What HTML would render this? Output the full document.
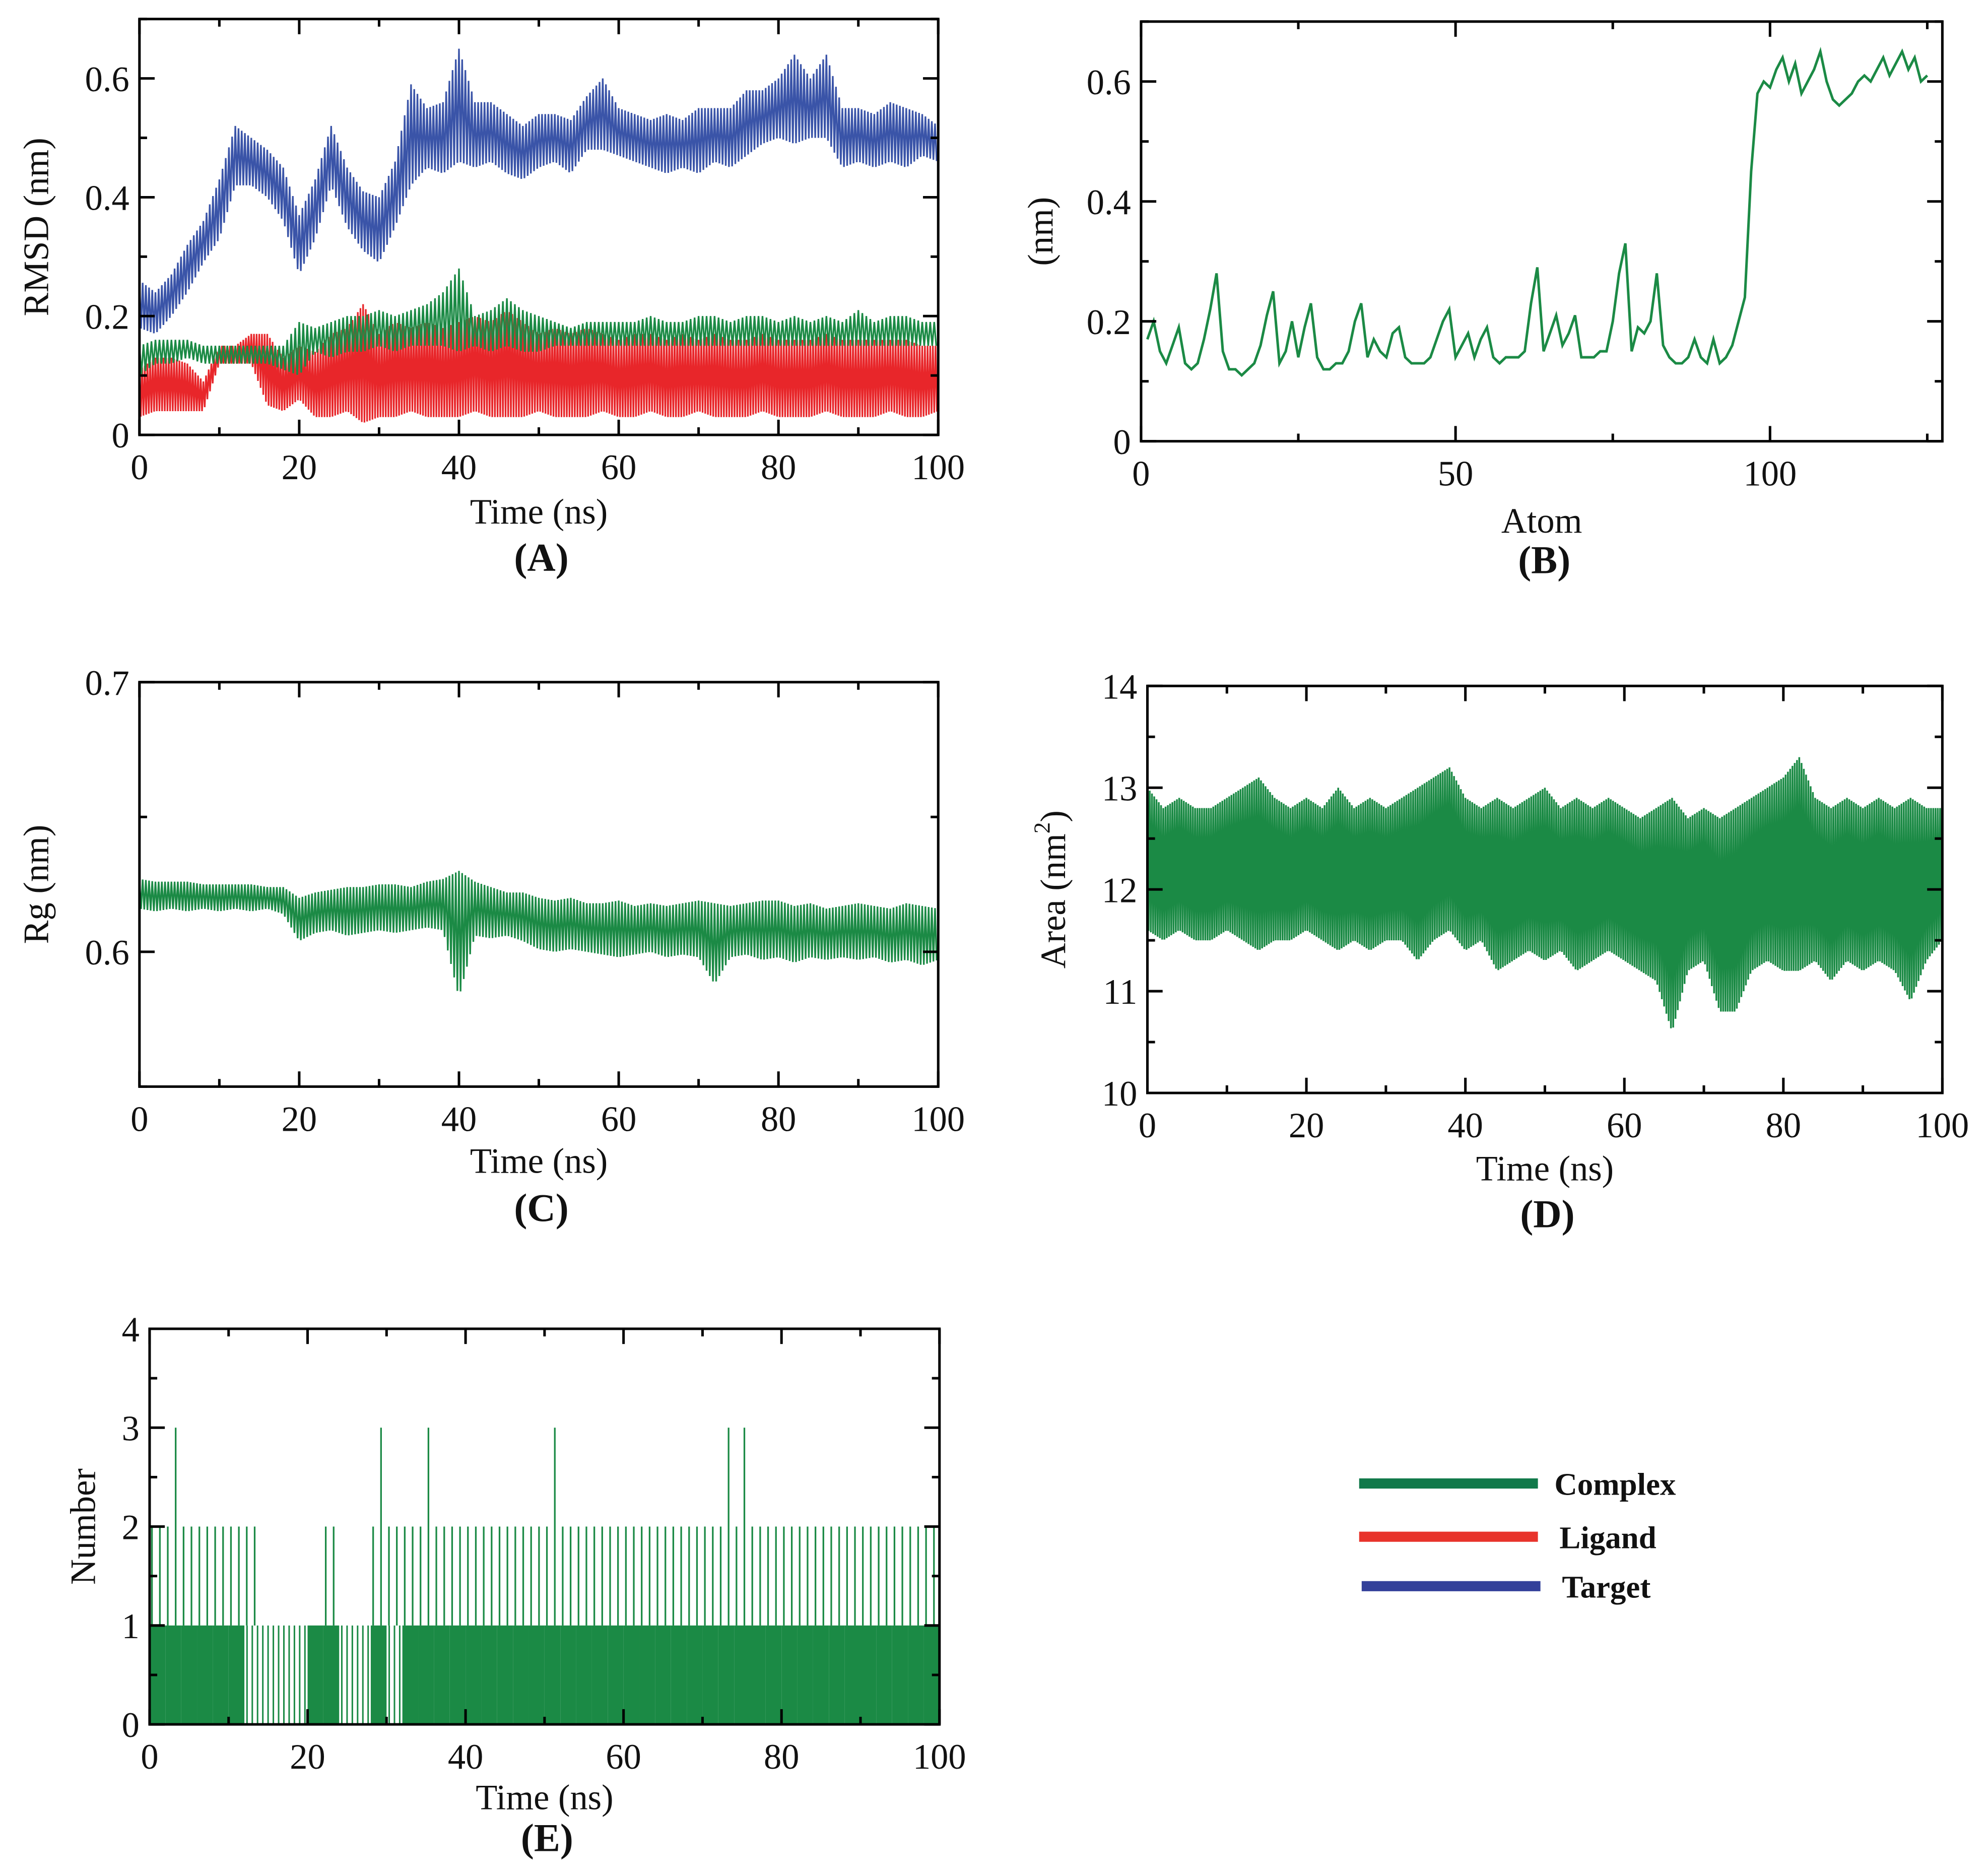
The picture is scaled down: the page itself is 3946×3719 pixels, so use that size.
<!DOCTYPE html>
<html><head><meta charset="utf-8"><style>
html,body{margin:0;padding:0;background:#fff}
svg{display:block}
text{font-family:"Liberation Serif",serif;fill:#111}
</style></head><body>
<svg id="fig" xmlns="http://www.w3.org/2000/svg" width="3946" height="3719" viewBox="0 0 1568 1478" preserveAspectRatio="none">
<g id="legend">
 <g><line x1="1072" y1="1170" x2="1213" y2="1170" stroke="#11794a" stroke-width="8"/><text x="1226" y="1179" font-size="25" font-weight="bold">Complex</text></g>
 <g><line x1="1072" y1="1212" x2="1213" y2="1212" stroke="#e8332b" stroke-width="8"/><text x="1230" y="1221" font-size="25" font-weight="bold">Ligand</text></g>
 <g><line x1="1074" y1="1251" x2="1215" y2="1251" stroke="#33409a" stroke-width="8"/><text x="1232" y="1260" font-size="25" font-weight="bold">Target</text></g>
</g>
</svg>
<script>
// ---------- data (2 ns bins, t = 0..100) ----------
const timeBins = [0,2,4,6,8,10,12,14,16,18,20,22,24,26,28,30,32,34,36,38,40,42,44,46,48,50,52,54,56,58,60,62,64,66,68,70,72,74,76,78,80,82,84,86,88,90,92,94,96,98,100];
const targetLo = [0.18,0.17,0.2,0.24,0.29,0.33,0.42,0.42,0.4,0.36,0.27,0.33,0.42,0.35,0.31,0.29,0.35,0.42,0.45,0.44,0.46,0.45,0.46,0.44,0.43,0.45,0.46,0.44,0.48,0.48,0.47,0.46,0.45,0.44,0.45,0.44,0.46,0.45,0.47,0.49,0.5,0.49,0.5,0.5,0.45,0.46,0.45,0.46,0.45,0.47,0.46];
const targetHi = [0.26,0.24,0.27,0.32,0.36,0.43,0.52,0.5,0.48,0.45,0.37,0.43,0.52,0.45,0.41,0.4,0.46,0.59,0.55,0.56,0.65,0.56,0.56,0.54,0.52,0.54,0.54,0.53,0.57,0.6,0.55,0.54,0.53,0.54,0.53,0.55,0.55,0.55,0.58,0.58,0.6,0.64,0.6,0.64,0.55,0.55,0.54,0.56,0.55,0.54,0.52];
const complexLo = [0.1,0.12,0.12,0.13,0.12,0.12,0.12,0.12,0.12,0.11,0.1,0.14,0.13,0.14,0.14,0.15,0.14,0.15,0.15,0.15,0.14,0.15,0.14,0.15,0.14,0.14,0.15,0.15,0.15,0.15,0.15,0.15,0.15,0.15,0.15,0.15,0.15,0.15,0.15,0.15,0.15,0.15,0.15,0.15,0.15,0.15,0.15,0.15,0.15,0.15,0.15];
const complexHi = [0.15,0.16,0.16,0.16,0.15,0.15,0.15,0.15,0.15,0.15,0.19,0.18,0.19,0.2,0.2,0.21,0.2,0.21,0.22,0.24,0.28,0.2,0.21,0.23,0.21,0.2,0.19,0.18,0.19,0.19,0.19,0.19,0.2,0.19,0.19,0.2,0.2,0.19,0.2,0.2,0.19,0.2,0.19,0.2,0.19,0.21,0.19,0.2,0.2,0.19,0.19];
const ligandLo = [0.03,0.04,0.04,0.04,0.04,0.12,0.12,0.12,0.05,0.04,0.06,0.03,0.03,0.04,0.02,0.03,0.03,0.04,0.03,0.03,0.03,0.04,0.03,0.03,0.03,0.04,0.03,0.03,0.03,0.04,0.03,0.03,0.04,0.03,0.03,0.04,0.03,0.03,0.03,0.04,0.03,0.03,0.03,0.04,0.03,0.03,0.03,0.04,0.03,0.03,0.04];
const ligandHi = [0.11,0.13,0.13,0.12,0.09,0.15,0.15,0.17,0.17,0.13,0.15,0.14,0.17,0.18,0.22,0.17,0.19,0.18,0.19,0.18,0.19,0.2,0.19,0.21,0.19,0.17,0.18,0.17,0.18,0.17,0.16,0.17,0.17,0.16,0.17,0.16,0.17,0.16,0.16,0.17,0.16,0.16,0.16,0.17,0.16,0.16,0.16,0.16,0.16,0.15,0.15];
const rmsfValues = [0.17,0.2,0.15,0.13,0.16,0.19,0.13,0.12,0.13,0.17,0.22,0.28,0.15,0.12,0.12,0.11,0.12,0.13,0.16,0.21,0.25,0.13,0.15,0.2,0.14,0.19,0.23,0.14,0.12,0.12,0.13,0.13,0.15,0.2,0.23,0.14,0.17,0.15,0.14,0.18,0.19,0.14,0.13,0.13,0.13,0.14,0.17,0.2,0.22,0.14,0.16,0.18,0.14,0.17,0.19,0.14,0.13,0.14,0.14,0.14,0.15,0.23,0.29,0.15,0.18,0.21,0.16,0.18,0.21,0.14,0.14,0.14,0.15,0.15,0.2,0.28,0.33,0.15,0.19,0.18,0.2,0.28,0.16,0.14,0.13,0.13,0.14,0.17,0.14,0.13,0.17,0.13,0.14,0.16,0.2,0.24,0.45,0.58,0.6,0.59,0.62,0.64,0.6,0.63,0.58,0.6,0.62,0.65,0.6,0.57,0.56,0.57,0.58,0.6,0.61,0.6,0.62,0.64,0.61,0.63,0.65,0.62,0.64,0.6,0.61];
const rgLo = [0.616,0.615,0.616,0.615,0.616,0.615,0.616,0.615,0.616,0.614,0.604,0.607,0.608,0.606,0.607,0.608,0.607,0.608,0.609,0.608,0.583,0.606,0.605,0.606,0.604,0.601,0.6,0.601,0.6,0.599,0.598,0.599,0.6,0.598,0.599,0.598,0.588,0.598,0.599,0.597,0.598,0.596,0.598,0.597,0.598,0.597,0.598,0.596,0.597,0.595,0.597];
const rgHi = [0.627,0.626,0.626,0.626,0.625,0.625,0.625,0.625,0.624,0.624,0.62,0.622,0.623,0.624,0.624,0.625,0.625,0.624,0.626,0.627,0.63,0.626,0.624,0.622,0.622,0.62,0.619,0.62,0.618,0.618,0.619,0.617,0.618,0.617,0.618,0.619,0.618,0.617,0.618,0.619,0.619,0.617,0.618,0.616,0.617,0.618,0.617,0.616,0.618,0.617,0.616];
const sasaLo = [11.6,11.5,11.6,11.5,11.5,11.6,11.5,11.4,11.5,11.5,11.6,11.5,11.4,11.5,11.4,11.5,11.5,11.3,11.5,11.6,11.4,11.5,11.2,11.3,11.4,11.3,11.4,11.2,11.3,11.4,11.3,11.2,11.1,10.6,11.2,11.3,10.8,10.8,11.2,11.3,11.2,11.2,11.3,11.1,11.3,11.2,11.3,11.2,10.9,11.3,11.5];
const sasaHi = [13.0,12.8,12.9,12.8,12.8,12.9,13.0,13.1,12.9,12.8,12.9,12.8,13.0,12.8,12.9,12.8,12.9,13.0,13.1,13.2,12.9,12.8,12.9,12.8,12.9,13.0,12.8,12.9,12.8,12.9,12.8,12.7,12.8,12.9,12.7,12.8,12.7,12.8,12.9,13.0,13.1,13.3,12.9,12.8,12.9,12.8,12.9,12.8,12.9,12.8,12.8];
const hbondHi = [2,3,2,2,2,2,2,1,1,1,1,2,1,1,3,2,2,3,2,2,2,2,2,2,2,3,2,2,2,2,2,2,2,2,2,2,3,3,2,2,2,2,2,2,2,2,2,2,2,2,2];
const hbondDense = [1,1,1,1,1,1,0,0,0,0,1,1,0,0,1,0,1,1,1,1,1,1,1,1,1,1,1,1,1,1,1,1,1,1,1,1,1,1,1,1,1,1,1,1,1,1,1,1,1,1,1];

const NS = "http://www.w3.org/2000/svg";
const svg = document.getElementById('fig');
function mk(tag, attrs, parent){const e=document.createElementNS(NS,tag);for(const k in attrs)e.setAttribute(k,attrs[k]);(parent||svg).appendChild(e);return e;}

function makePanel(p){
  const g = mk('g',{});
  
  
  const sx = v => p.x0 + (v - p.xmin) / (p.xmax - p.xmin) * (p.x1 - p.x0);
  const sy = v => p.yb - (v - p.ymin) / (p.ymax - p.ymin) * (p.yb - p.yt);
  p.sx = sx; p.sy = sy; p.g = g;
  return p;
}
function drawAxes(p){
  const g = p.g, sx=p.sx, sy=p.sy;
  const frame = mk('rect',{x:p.x0,y:p.yt,width:p.x1-p.x0,height:p.yb-p.yt,fill:'none',stroke:'#000','stroke-width':2},g);
  
  
  for(let v=p.xmin; v<=p.xmax+1e-9; v+=p.xminor){
    const major = Math.abs((v-p.xmin)/p.xmajor - Math.round((v-p.xmin)/p.xmajor))<1e-6;
    const L = major?12:6, x=sx(v);
    mk('line',{x1:x,y1:p.yb,x2:x,y2:p.yb-L,stroke:'#000','stroke-width':2},g);
    mk('line',{x1:x,y1:p.yt,x2:x,y2:p.yt+L,stroke:'#000','stroke-width':2},g);
    if(major){const t=mk('text',{x:x,y:p.yb+35,'font-size':28,'text-anchor':'middle'},g);t.textContent=String(Math.round(v));
      
      }
  }
  for(let i=0;;i++){
    const v = p.ymin + i*p.yminor; if(v>p.ymax+1e-9) break;
    const major = Math.abs((v-p.ymajorStart)/p.ymajor - Math.round((v-p.ymajorStart)/p.ymajor))<1e-6;
    const L = major?12:6, y=sy(v);
    mk('line',{x1:p.x0,y1:y,x2:p.x0+L,y2:y,stroke:'#000','stroke-width':2},g);
    mk('line',{x1:p.x1,y1:y,x2:p.x1-L,y2:y,stroke:'#000','stroke-width':2},g);
    if(major){const t=mk('text',{x:p.x0-8,y:y+10,'font-size':28,'text-anchor':'end'},g);t.textContent=p.yfmt(v);
      
      }
  }
  const xl = mk('text',{x:(p.x0+p.x1)/2,y:p.xlabelY,'font-size':28,'text-anchor':'middle'},g); xl.textContent=p.xlabel;
  
  
  const yl = mk('text',{x:0,y:0,'font-size':28,'text-anchor':'middle',transform:`translate(${p.ylabelX},${(p.yt+p.yb)/2}) rotate(-90)`},g);
  if(p.ylabelSup){yl.textContent=p.ylabel; const ts=mk('tspan',{'font-size':18,dy:-12},yl); ts.textContent='2'; const t2=mk('tspan',{dy:12},yl); t2.textContent=')';}
  else yl.textContent=p.ylabel;
  
  
  const pl = mk('text',{x:(p.x0+p.x1)/2+2,y:p.plabelY,'font-size':31,'font-weight':'bold','text-anchor':'middle'},g); pl.textContent=p.plabel;
  
  
}
// zigzag between interpolated low/high envelopes
function drawBand(p, xs, lo, hi, color, name, sub, sw){
  let pts=[];
  for(let i=0;i<xs.length-1;i++){
    for(let k=0;k<sub;k++){
      const f0 = k/sub, f1 = (k+0.5)/sub;
      const t0 = xs[i] + (xs[i+1]-xs[i])*f0, t1 = xs[i] + (xs[i+1]-xs[i])*f1;
      const h = hi[i] + (hi[i+1]-hi[i])*f0, l = lo[i] + (lo[i+1]-lo[i])*f1;
      pts.push(p.sx(t0)+','+p.sy(h));
      pts.push(p.sx(t1)+','+p.sy(l));
    }
  }
  const pl = mk('polyline',{points:pts.join(' '),fill:'none',stroke:color,'stroke-width':sw,'stroke-linejoin':'miter'},p.g);
  
  
}

const A = makePanel({name:'panel-a-rmsd',x0:110,x1:740,yt:15,yb:343,xmin:0,xmax:100,ymin:0,ymax:0.7,xmajor:20,xminor:10,ymajor:0.2,yminor:0.1,ymajorStart:0,
  yfmt:v=>v<1e-9?'0':v.toFixed(1),xlabel:'Time (ns)',xlabelY:413,ylabel:'RMSD (nm)',ylabelX:38,plabel:'(A)',plabelY:450});
drawBand(A,timeBins,targetLo,targetHi,'#3a54a8','target-rmsd-line',5,1.3);
drawBand(A,timeBins,ligandLo,ligandHi,'#e8262a','ligand-rmsd-line',6,1.3);
drawBand(A,timeBins,complexLo,complexHi,'#1b8a45','complex-rmsd-line',4,1.3);
drawAxes(A);

const B = makePanel({name:'panel-b-rmsf',x0:900,x1:1532,yt:17,yb:348,xmin:0,xmax:127.4,ymin:0,ymax:0.7,xmajor:50,xminor:25,ymajor:0.2,yminor:0.1,ymajorStart:0,
  yfmt:v=>v<1e-9?'0':v.toFixed(1),xlabel:'Atom',xlabelY:420,ylabel:'(nm)',ylabelX:830,plabel:'(B)',plabelY:452});
{
  const pts = rmsfValues.map((v,i)=>B.sx(i+1)+','+B.sy(v)).join(' ');
  const l = mk('polyline',{points:pts,fill:'none',stroke:'#1b8a45','stroke-width':2},B.g);
  
  
}
drawAxes(B);

const C = makePanel({name:'panel-c-rg',x0:110,x1:740,yt:538,yb:857,xmin:0,xmax:100,ymin:0.55,ymax:0.7,xmajor:20,xminor:10,ymajor:0.1,yminor:0.05,ymajorStart:0.6,
  yfmt:v=>v.toFixed(1),xlabel:'Time (ns)',xlabelY:925,ylabel:'Rg (nm)',ylabelX:38,plabel:'(C)',plabelY:963});
drawBand(C,timeBins,rgLo,rgHi,'#1b8a45','rg-line',5,1.3);
drawAxes(C);

const D = makePanel({name:'panel-d-sasa',x0:905,x1:1532,yt:541,yb:862,xmin:0,xmax:100,ymin:10,ymax:14,xmajor:20,xminor:10,ymajor:1,yminor:0.5,ymajorStart:10,
  yfmt:v=>String(Math.round(v)),xlabel:'Time (ns)',xlabelY:931,ylabel:'Area (nm',ylabelSup:true,ylabelX:840,plabel:'(D)',plabelY:968});
drawBand(D,timeBins,sasaLo,sasaHi,'#1b8a45','sasa-line',7,1.4);
drawAxes(D);

const E = makePanel({name:'panel-e-hbonds',x0:118,x1:741,yt:1048,yb:1360,xmin:0,xmax:100,ymin:0,ymax:4,xmajor:20,xminor:10,ymajor:1,yminor:0.5,ymajorStart:0,
  yfmt:v=>String(Math.round(v)),xlabel:'Time (ns)',xlabelY:1427,ylabel:'Number',ylabelX:75,plabel:'(E)',plabelY:1460});
for(let i=0;i<timeBins.length-1;i++){
  const xa=E.sx(timeBins[i]), xb=E.sx(timeBins[i+1]);
  if(hbondDense[i]){
    const r=mk('rect',{x:xa,y:E.sy(1),width:xb-xa,height:E.sy(0)-E.sy(1),fill:'#1b8a45'},E.g);
    
    
  } else {
    for(let k=0;k<3;k++){const x=xa+(xb-xa)*(k+0.5)/3;
      const l=mk('line',{x1:x,y1:E.sy(0),x2:x,y2:E.sy(1),stroke:'#1b8a45','stroke-width':1.2},E.g);
      
      }
  }
  if(hbondHi[i]>1){
    for(let k=0;k<2;k++){const x=xa+(xb-xa)*(k+0.3)/2;
      const h = k===1 ? hbondHi[i] : Math.min(hbondHi[i],2);
      const l=mk('line',{x1:x,y1:E.sy(1),x2:x,y2:E.sy(h),stroke:'#1b8a45','stroke-width':1.3},E.g);
      
      }
  }
}
drawAxes(E);
</script>
</body></html>
